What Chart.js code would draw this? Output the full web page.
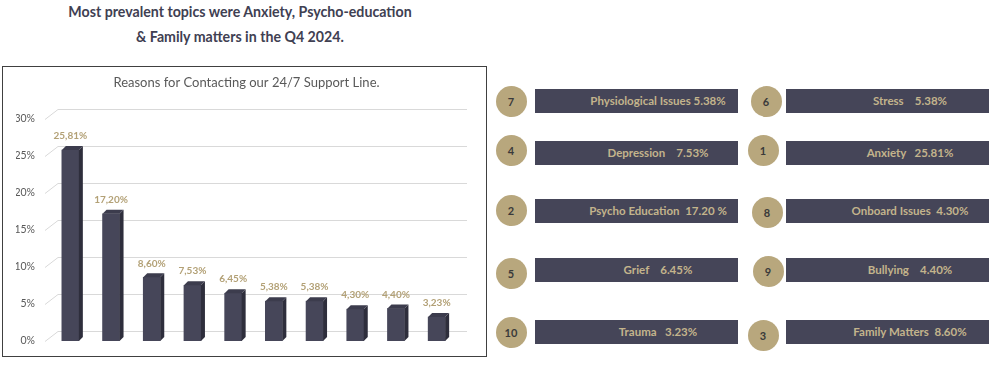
<!DOCTYPE html>
<html>
<head>
<meta charset="utf-8">
<script src="https://cdn.jsdelivr.net/npm/chart.js@4/dist/chart.umd.min.js"></script>
<style>
  html, body { margin: 0; padding: 0; background: #ffffff; }
  body { width: 998px; height: 370px; position: relative; overflow: hidden; font-family: Lato, "Open Sans", sans-serif; }
  .headline { position: absolute; left: 40px; width: 400px; text-align: center; font-weight: bold; font-size: 14.2px; color: #404052; white-space: nowrap; }
  #box { position: absolute; left: 2px; top: 66px; width: 485px; height: 291px; box-sizing: border-box; border: 1px solid #404040; }
  #wrap { position: absolute; left: 0; top: 0; width: 483px; height: 289px; }
  .circle { position: absolute; width: 31px; height: 31px; border-radius: 50%; background: #b8a77d; color: #3a3a3a; font-weight: bold; font-size: 11px; display: flex; align-items: center; justify-content: center; }
  .pbar { position: absolute; height: 24px; background: #454558; }
  .ptext { position: absolute; height: 24px; line-height: 24px; font-weight: bold; font-size: 11.5px; color: #c3b48c; white-space: pre; transform: translateX(-50%); }
</style>
</head>
<body>
<div class="headline" style="top:3px;">Most prevalent topics were Anxiety, Psycho-education</div>
<div class="headline" style="top:28px;">&amp; Family matters in the Q4 2024.</div>
<div id="box"><div id="wrap"><canvas id="c" width="483" height="289"></canvas></div></div>
<div id="panel"></div>
<script>
// ---- data ----
const categories = ["Anxiety", "Psycho Education", "Family Matters", "Depression", "Grief", "Stress", "Physiological Issues", "Onboard Issues", "Bullying", "Trauma"];
const values = [25.81, 17.20, 8.60, 7.53, 6.45, 5.38, 5.38, 4.30, 4.40, 3.23];
const yTicks = [0, 5, 10, 15, 20, 25, 30];
const ranks = [1, 2, 3, 4, 5, 6, 7, 8, 9, 10];
const panelTexts = ["Anxiety   25.81%", "Psycho Education  17.20 %", "Family Matters  8.60%", "Depression    7.53%", "Grief    6.45%", "Stress    5.38%", "Physiological Issues 5.38%", "Onboard Issues  4.30%", "Bullying    4.40%", "Trauma   3.23%"];
const panelLeftRanks = [7, 4, 2, 5, 10];
const panelRightRanks = [6, 1, 8, 9, 3];
const chartTitle = "Reasons for Contacting our 24/7 Support Line.";

// ---- right panel layout ----
const rowBarTops = [89, 141, 199, 258, 320];
const leftCircleY = [101, 150, 210, 273, 332];
const rightCircleY = [101, 150, 212, 271, 335];
const rightCircleX = [766, 763, 767, 768, 763];
const panel = document.getElementById('panel');
function addItem(rank, cx, cy, barLeft, barTop, textCenter) {
  const c = document.createElement('div');
  c.className = 'circle';
  c.style.left = (cx - 15.5) + 'px';
  c.style.top = (cy - 15.5) + 'px';
  c.textContent = String(rank);
  panel.appendChild(c);
  const b = document.createElement('div');
  b.className = 'pbar';
  b.style.left = barLeft + 'px';
  b.style.width = (barLeft < 700 ? 738 - barLeft : 989 - barLeft) + 'px';
  b.style.top = barTop + 'px';
  panel.appendChild(b);
  const t = document.createElement('div');
  t.className = 'ptext';
  t.style.left = textCenter + 'px';
  t.style.top = barTop + 'px';
  t.textContent = panelTexts[ranks.indexOf(rank)];
  panel.appendChild(t);
}
panelLeftRanks.forEach((r, i) => addItem(r, 511, leftCircleY[i], 535, rowBarTops[i], 658));
panelRightRanks.forEach((r, i) => addItem(r, rightCircleX[i], rightCircleY[i], 786, rowBarTops[i], 910));

// ---- chart ----
const FONT = "Lato, 'Open Sans', sans-serif";
const depth = 4;

const titlePlugin = {
  id: 'titlePlugin',
  afterDraw(chart) {
    const ctx = chart.ctx;
    ctx.save();
    ctx.fillStyle = '#595959';
    ctx.font = "13px " + FONT;
    ctx.textAlign = 'center';
    ctx.textBaseline = 'middle';
    ctx.fillText(chartTitle, chart.width / 2 + 2, 16);
    ctx.restore();
  }
};

const gridPlugin = {
  id: 'gridPlugin',
  beforeDatasetsDraw(chart) {
    const ctx = chart.ctx, y = chart.scales.y, area = chart.chartArea;
    ctx.save();
    ctx.strokeStyle = '#d9d9d9';
    ctx.lineWidth = 1;
    yTicks.forEach(v => {
      const py = Math.round(y.getPixelForValue(v)) + 0.5;
      ctx.beginPath();
      ctx.moveTo(area.left - 5, py);
      ctx.lineTo(area.left + 8, py - 10);
      ctx.lineTo(area.right + 10, py - 10);
      ctx.stroke();
    });
    ctx.restore();
  }
};

const bar3dPlugin = {
  id: 'bar3d',
  afterDatasetsDraw(chart) {
    const ctx = chart.ctx;
    const meta = chart.getDatasetMeta(0);
    ctx.save();
    meta.data.forEach((bar, i) => {
      const l = bar.x - bar.width / 2, r = bar.x + bar.width / 2;
      const top = bar.y, bottom = bar.base;
      ctx.fillStyle = '#2e2e3c';
      ctx.beginPath();
      ctx.moveTo(r, top); ctx.lineTo(r + depth, top - depth);
      ctx.lineTo(r + depth, bottom - depth); ctx.lineTo(r, bottom);
      ctx.closePath(); ctx.fill();
      ctx.fillStyle = '#3c3c4d';
      ctx.beginPath();
      ctx.moveTo(l, top); ctx.lineTo(l + depth, top - depth);
      ctx.lineTo(r + depth, top - depth); ctx.lineTo(r, top);
      ctx.closePath(); ctx.fill();
      ctx.fillStyle = '#b3a176';
      ctx.font = "bold 10px " + FONT;
      ctx.textAlign = 'center';
      ctx.textBaseline = 'middle';
      ctx.fillText(values[i].toFixed(2).replace('.', ',') + '%', bar.x, top - 14);
    });
    ctx.restore();
  }
};

new Chart(document.getElementById('c'), {
  type: 'bar',
  data: {
    labels: categories,
    datasets: [{
      data: values,
      backgroundColor: '#464659',
      borderWidth: 0,
      barThickness: 17
    }]
  },
  options: {
    responsive: false,
    animation: false,
    layout: { padding: { left: 13, right: 29, top: 52, bottom: 15 } },
    plugins: {
      legend: { display: false },
      tooltip: { enabled: false },
      title: { display: false }
    },
    scales: {
      x: { display: false },
      y: {
        min: 0, max: 30,
        afterBuildTicks(scale) { scale.ticks = yTicks.map(v => ({ value: v })); },
        afterFit(scale) { scale.width = 34; },
        ticks: { callback: v => v + '%', color: '#595959', font: { family: FONT, size: 10.5 }, padding: 0 },
        grid: { display: false, drawTicks: true, tickLength: 15 },
        border: { display: false }
      }
    }
  },
  plugins: [gridPlugin, bar3dPlugin, titlePlugin]
});
</script>
</body>
</html>
